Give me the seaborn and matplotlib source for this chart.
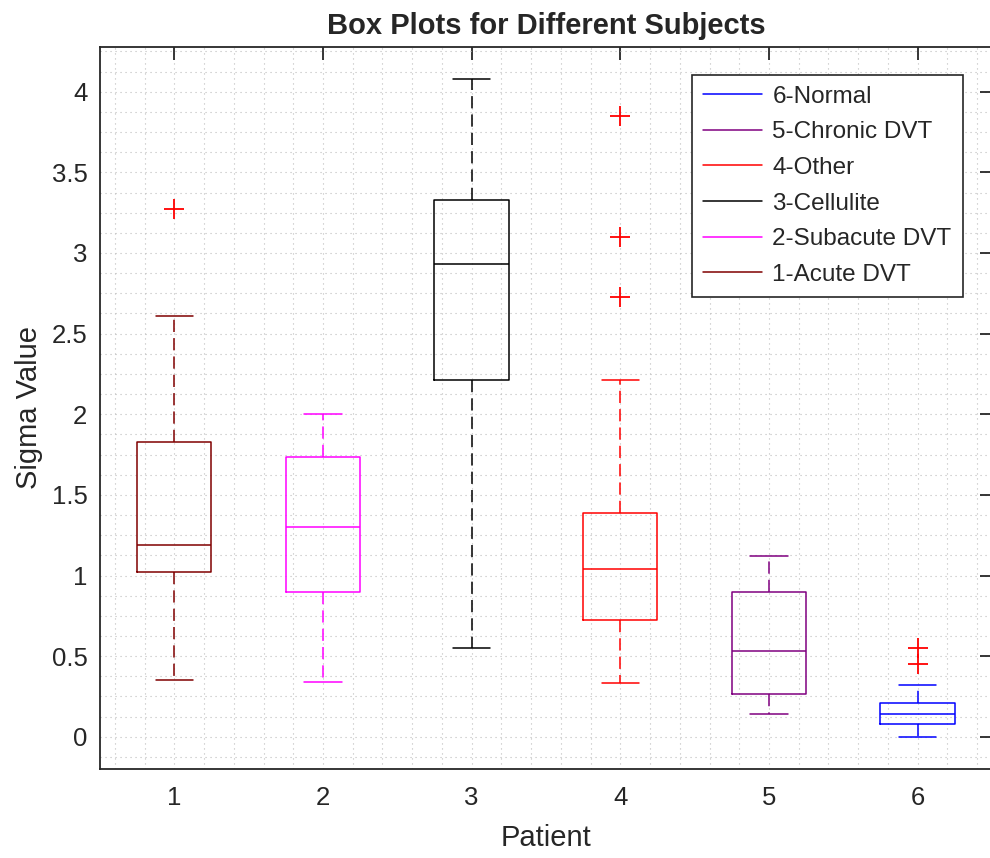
import numpy as np
import matplotlib.pyplot as plt
from matplotlib.lines import Line2D
from matplotlib.ticker import MultipleLocator
import seaborn as sns

# box statistics, patient 1..6
patients = [1, 2, 3, 4, 5, 6]
labels = ['1-Acute DVT', '2-Subacute DVT', '3-Cellulite', '4-Other',
          '5-Chronic DVT', '6-Normal']
colors = ['#800000', '#FF00FF', '#000000', '#FF0000', '#800080', '#0000FF']

whislo = [0.35, 0.34, 0.55, 0.335, 0.14, 0.0]
q1 = [1.02, 0.90, 2.21, 0.726, 0.267, 0.081]
med = [1.19, 1.30, 2.93, 1.04, 0.53, 0.143]
q3 = [1.83, 1.736, 3.33, 1.39, 0.895, 0.209]
whishi = [2.61, 2.0, 4.08, 2.214, 1.12, 0.322]
fliers = [[3.27], [], [], [3.85, 3.10, 2.73], [], [0.552, 0.45]]

sns.set_style('white')
plt.rcParams['font.family'] = ['Liberation Sans', 'DejaVu Sans']

fig = plt.figure(figsize=(9.9, 8.58), dpi=100)
ax = fig.add_axes([0.101, 0.1037, 0.901, 0.842])

for i, p in enumerate(patients):
    st = {'med': med[i], 'q1': q1[i], 'q3': q3[i],
          'whislo': whislo[i], 'whishi': whishi[i], 'fliers': fliers[i]}
    c = colors[i]
    ax.bxp([st], positions=[p], widths=0.5, showfliers=True,
           boxprops=dict(color=c, lw=1.1),
           medianprops=dict(color=c, lw=1.1),
           whiskerprops=dict(color=c, lw=1.1, linestyle=(0, (8, 4))),
           capprops=dict(color=c, lw=1.1),
           flierprops=dict(marker='+', markeredgecolor='red',
                           markersize=14, markeredgewidth=1.3,
                           linestyle='none'))

ax.set_xlim(0.5, 6.5)
ax.set_ylim(-0.2, 4.28)
ax.set_xticks(patients)
ax.set_xticklabels([str(p) for p in patients])
ax.set_yticks([0, 0.5, 1, 1.5, 2, 2.5, 3, 3.5, 4])
ax.set_yticklabels(['0', '0.5', '1', '1.5', '2', '2.5', '3', '3.5', '4'])
ax.xaxis.set_minor_locator(MultipleLocator(0.2))
ax.yaxis.set_minor_locator(MultipleLocator(0.125))

ax.grid(True, which='both', color='#bdbdbd', linestyle=(0, (1, 3.5)), lw=0.8)
ax.set_axisbelow(True)

ax.tick_params(which='major', direction='in', length=9, width=1.3,
               top=True, right=True, labelsize=18.5, labelcolor='#262626',
               color='#262626', pad=12)
ax.tick_params(axis='y', which='major', pad=9)
ax.tick_params(which='minor', length=0)
for s in ax.spines.values():
    s.set_color('#262626')
    s.set_linewidth(1.3)

ax.set_xlabel('Patient', fontsize=21, color='#262626', labelpad=10)
ax.set_ylabel('Sigma Value', fontsize=21, color='#262626', labelpad=6)
ax.set_title('Box Plots for Different Subjects', fontsize=21,
             fontweight='bold', pad=9)

handles = [Line2D([0], [0], color=colors[i], lw=1.1) for i in range(5, -1, -1)]
leg_labels = [labels[i] for i in range(5, -1, -1)]
leg = ax.legend(handles, leg_labels, loc='upper right',
                bbox_to_anchor=(0.967, 0.961), fontsize=17.5,
                frameon=True, fancybox=False, handlelength=2.4,
                labelspacing=0.56, borderpad=0.45, handletextpad=0.45,
                borderaxespad=0)
leg.get_frame().set_edgecolor('#262626')
leg.get_frame().set_linewidth(1.2)
leg.get_frame().set_alpha(1)

fig.savefig('out.png', dpi=100)
